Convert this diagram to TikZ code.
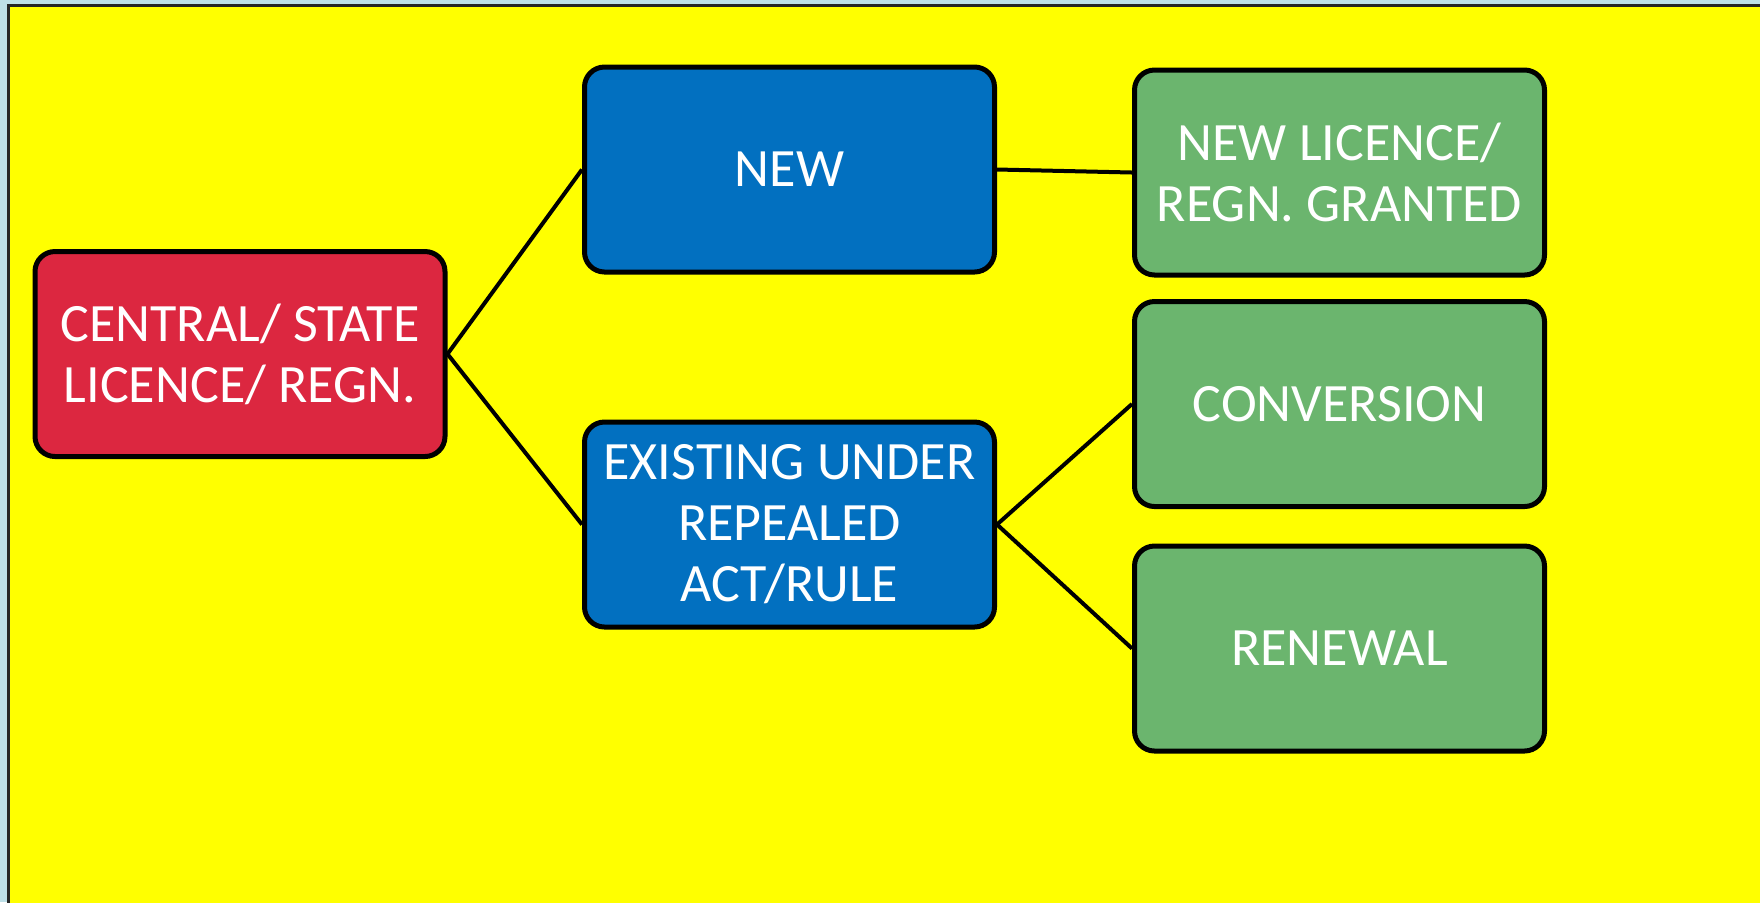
\documentclass[tikz,border=0pt]{standalone}
\usepackage{fontspec}
\setmainfont{Carlito}
\definecolor{bgblue}{RGB}{190,224,232}
\definecolor{ylw}{RGB}{255,255,0}
\definecolor{boxred}{RGB}{220,39,64}
\definecolor{boxblue}{RGB}{2,112,192}
\definecolor{boxgreen}{RGB}{107,181,110}
\tikzset{
  card/.style={draw=black, line width=2.5pt, rounded corners=10pt,
    minimum width=205pt, minimum height=102.5pt, inner sep=0pt,
    text=white, align=center, font=\fontsize{27}{30.5}\selectfont},
  redcard/.style={card, fill=boxred},
  bluecard/.style={card, fill=boxblue},
  greencard/.style={card, fill=boxgreen},
  link/.style={draw=black, line width=2pt}
}
\begin{document}
\begin{tikzpicture}[x=0.5pt,y=-0.5pt]
\useasboundingbox (0,0) rectangle (1760,902);
\fill[bgblue] (0,0) rectangle (1760,902);
\draw[fill=ylw, draw=black!85, line width=1.5pt] (8.5,5.5) rectangle (1775,915);
\node[redcard] (central) at (240,354) {CENTRAL/ STATE\\LICENCE/ REGN.};
\node[bluecard] (new) at (789.5,169.5) {NEW};
\node[bluecard] (exist) at (789.5,524.5) {EXISTING UNDER\\REPEALED\\ACT/RULE};
\node[greencard] (granted) at (1339.5,172.5) {NEW LICENCE/\\REGN. GRANTED};
\node[greencard] (conv) at (1339.5,404) {CONVERSION};
\node[greencard] (renew) at (1339.5,648.5) {RENEWAL};
\draw[link] (central.east) -- (new.west);
\draw[link] (central.east) -- (exist.west);
\draw[link] (new.east) -- (granted.west);
\draw[link] (exist.east) -- (conv.west);
\draw[link] (exist.east) -- (renew.west);
\end{tikzpicture}
\end{document}
